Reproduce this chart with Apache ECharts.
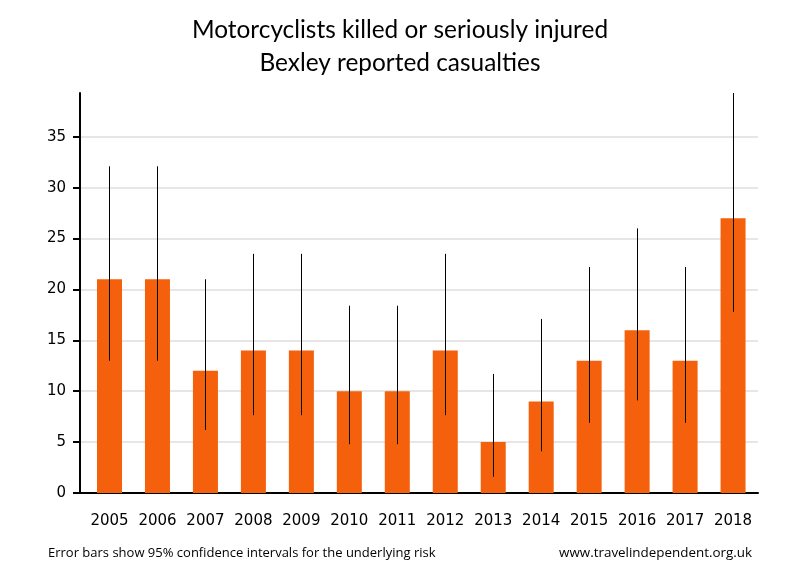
<!DOCTYPE html>
<html><head><meta charset="utf-8">
<script src="https://cdn.jsdelivr.net/npm/echarts@6/dist/echarts.min.js"></script>
<style>html,body{margin:0;padding:0;background:#fff}#c{width:800px;height:580px}</style>
</head><body><div id="c"></div>
<script>
const years = ['2005','2006','2007','2008','2009','2010','2011','2012','2013','2014','2015','2016','2017','2018'];
const casualties = [21,21,12,14,14,10,10,14,5,9,13,16,13,27];
const ciLow  = [13.0,13.0,6.2,7.65,7.65,4.8,4.8,7.65,1.6,4.1,6.9,9.1,6.9,17.8];
const ciHigh = [32.1,32.1,21.0,23.5,23.5,18.4,18.4,23.5,11.7,17.1,22.2,26.0,22.2,39.3];
const yTicks = [0,5,10,15,20,25,30,35];
const yMax = 39.3;

const chart = echarts.init(document.getElementById('c'), null, {renderer:'canvas'});
const idx = years.map((y,i)=>i);
const barData = casualties.map((v,i)=>[i, v]);
const errData = years.map((y,i)=>[i, ciLow[i], ciHigh[i]]);
chart.setOption({
  animation:false,
  backgroundColor:'#fff',
  title:{
    text:'Motorcyclists killed or seriously injured\nBexley reported casualties',
    left:'center', top:9,
    textStyle:{fontFamily:'Lato', fontWeight:'normal', fontSize:24.4, color:'#000', lineHeight:33}
  },
  graphic:[
    {type:'text', left:48, top:547, style:{text:'Error bars show 95% confidence intervals for the underlying risk', font:'13px "Open Sans"', fill:'#000'}},
    {type:'text', right:48, top:547, style:{text:'www.travelindependent.org.uk', font:'13.4px "Open Sans"', fill:'#000'}}
  ],
  grid:{left:80, right:42, top:93, bottom:87},
  xAxis:{
    type:'value', min:-0.615, max:13.52,
    splitLine:{show:false},
    axisLine:{onZero:false, lineStyle:{color:'#000', width:2}},
    axisTick:{show:false},
    axisLabel:{color:'#000', fontFamily:'DejaVu Sans', fontSize:15, margin:21, customValues:idx,
      formatter:v=>years[Math.round(v)]}
  },
  yAxis:{
    type:'value', min:0, max:yMax, interval:5,
    axisLine:{show:true, onZero:false, lineStyle:{color:'#000', width:2}},
    axisTick:{show:true, length:7, lineStyle:{color:'#000', width:2}, customValues:yTicks},
    axisLabel:{color:'#000', fontFamily:'DejaVu Sans', fontSize:15, margin:14, customValues:yTicks},
    splitLine:{show:false}
  },
  series:[
    {
      type:'bar', data:barData, barWidth:25,
      itemStyle:{color:'#f4600c'},
      markLine:{
        silent:true, symbol:'none', label:{show:false}, z:0,
        lineStyle:{color:'#e6e6e6', width:2, type:'solid'},
        data: yTicks.filter(v=>v>0).map(v=>({yAxis:v}))
      },
      z:2
    },
    {
      type:'custom', data:errData, z:5,
      encode:{x:0, y:[1,2]},
      renderItem:function(params, api){
        const p1 = api.coord([api.value(0), api.value(1)]);
        const p2 = api.coord([api.value(0), api.value(2)]);
        return {type:'line', shape:{x1:Math.round(p1[0])+0.5, y1:p1[1], x2:Math.round(p2[0])+0.5, y2:p2[1]}, style:{stroke:'#000', lineWidth:1}};
      }
    }
  ]
});
</script></body></html>
